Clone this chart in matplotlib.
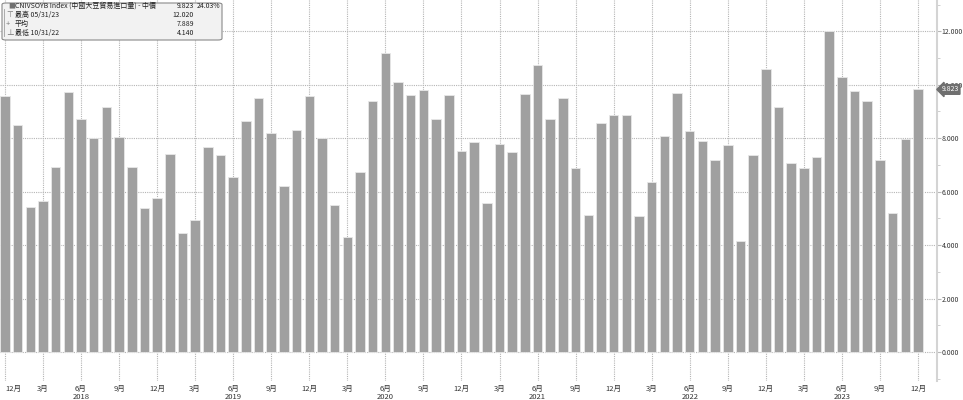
import numpy as np
import matplotlib.pyplot as plt
from matplotlib.patches import FancyBboxPatch
from matplotlib.ticker import MultipleLocator

plt.rcParams['font.family'] = ['Noto Sans CJK TC', 'DejaVu Sans']

# China soybean imports, monthly, Dec 2017 - Dec 2023 (million t)
values = [9.56, 8.51, 5.44, 5.66, 6.94, 9.72, 8.73, 8.02, 9.18, 8.05, 6.94, 5.39, 5.75,
          7.41, 4.46, 4.94, 7.68, 7.38, 6.55, 8.66, 9.51, 8.21, 6.21, 8.31, 9.56,
          8.02, 5.51, 4.31, 6.73, 9.40, 11.20, 10.11, 9.62, 9.81, 8.73, 9.62, 7.53,
          7.86, 5.58, 7.79, 7.49, 9.64, 10.75, 8.70, 9.51, 6.89, 5.12, 8.58, 8.88,
          8.87, 5.10, 6.36, 8.09, 9.70, 8.27, 7.91, 7.19, 7.75, 4.14, 7.37, 10.60,
          9.16, 7.07, 6.89, 7.30, 12.02, 10.30, 9.77, 9.40, 7.19, 5.20, 7.97, 9.823]

tick_labels = ["12月", "3月", "6月\n2018", "9月",
               "12月", "3月", "6月\n2019", "9月",
               "12月", "3月", "6月\n2020", "9月",
               "12月", "3月", "6月\n2021", "9月",
               "12月", "3月", "6月\n2022", "9月",
               "12月", "3月", "6月\n2023", "9月", "12月"]

legend_rows = ["CNIVSOYB Index (中國大豆貿易進口量) - 中價", "最高 05/31/23", "平均", "最低 10/31/22"]
legend_vals = ["9.823", "12.020", "7.889", "4.140"]
last_change = "24.03%"

x = np.arange(len(values))

fig = plt.figure(figsize=(9.63, 4.0), dpi=100)
ax = fig.add_axes([0, 0.0475, 937 / 963, 0.9525])

ax.bar(x, values, width=0.75, color='#a0a0a0', edgecolor='#e8e8e8', linewidth=0.6, zorder=2)

ax.set_xlim(-0.39, 73.5)
ax.set_ylim(-1.085, 13.17)

ax.yaxis.tick_right()
ax.set_yticks(np.arange(0, 13, 2))
ax.set_yticklabels([f"{v:.3f}" for v in np.arange(0, 13, 2)])
ax.yaxis.set_minor_locator(MultipleLocator(1))
ax.tick_params(axis='y', which='major', length=3, color='#b8b8b8', labelsize=5,
               labelcolor='#333333', pad=0.5)
ax.tick_params(axis='y', which='minor', length=2, color='#c8c8c8')

ax.set_xticks(x[::3])
ax.set_xticklabels(tick_labels, fontsize=5.5, color='#333333', linespacing=1.0, va='top')
ax.get_xticklabels()[0].set_horizontalalignment('left')
ax.tick_params(axis='x', length=0, pad=3)

ax.grid(True, which='major', color='#b5b5b5', linestyle=(0, (1, 1)), linewidth=0.8, zorder=0)

for s in ['top', 'left', 'bottom']:
    ax.spines[s].set_visible(False)
ax.spines['right'].set_color('#d4d4d4')
ax.spines['right'].set_linewidth(1.5)

# last value flag
ax.annotate(legend_vals[0], xy=(1.0, values[-1]), xycoords=('axes fraction', 'data'),
            xytext=(3.5, 0), textcoords='offset points', fontsize=5, color='white',
            va='center', ha='left',
            bbox=dict(boxstyle='larrow,pad=0.12', fc='#6f6f6f', ec='#6f6f6f'),
            annotation_clip=False, zorder=10)

# legend box
W, H = 963, 400
box = FancyBboxPatch((2 / W, 1 - 40 / H), 220 / W, 37 / H,
                     boxstyle='round,pad=0,rounding_size=0.004',
                     transform=fig.transFigure, fc='#f2f2f2', ec='#8a8a8a', lw=0.8, zorder=5)
fig.patches.append(box)
row_y = [6, 15, 24, 33]
icons = ["■", "⊤", "+", "⊥"]
for i in range(4):
    yy = 1 - row_y[i] / H
    fig.text(8 / W if i == 0 else 6 / W, yy, icons[i], fontsize=5 if i == 0 else 5.5,
             color='#707070', va='center', ha='left', zorder=6)
    fig.text(15 / W, yy, legend_rows[i], fontsize=5, color='#222222',
             va='center', ha='left', zorder=6)
    fig.text(194 / W, yy, legend_vals[i], fontsize=5, color='#222222',
             va='center', ha='right', zorder=6)
fig.text(220 / W, 1 - row_y[0] / H, last_change, fontsize=5, color='#222222',
         va='center', ha='right', zorder=6)
fig.lines.append(plt.Line2D([3.5 / W, 3.5 / W], [1 - 9 / H, 1 - 36 / H],
                            transform=fig.transFigure, color='#a0a0a0', lw=0.6, zorder=6))

fig.savefig("out.png", dpi=100)
